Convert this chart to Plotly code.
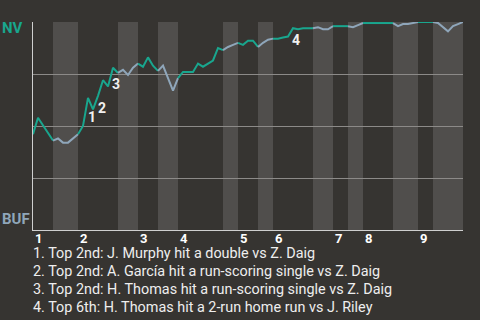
import plotly.graph_objects as go

# Win probability for NV (1 = NV wins, 0 = BUF wins), by play index
play_x = [0, 1, 4, 5, 6, 7, 9, 10, 11, 12, 13, 14, 15, 16, 17, 18, 19, 20, 21, 22,
          23, 24, 25, 26, 28, 29, 30, 32, 33, 34, 35, 36, 37, 38, 39, 40, 41, 42, 43, 44,
          45, 46, 47, 48, 49, 50, 51, 52, 53, 54, 56, 57, 58, 59, 60, 63, 64, 65, 66, 72,
          73, 74, 75, 77, 80, 81, 83, 84, 85, 86]
nv_wp = [0.46, 0.54, 0.43, 0.44, 0.42, 0.42, 0.46, 0.50, 0.635, 0.58, 0.645, 0.72, 0.69, 0.78, 0.755, 0.77, 0.745, 0.78, 0.80, 0.785,
         0.83, 0.79, 0.765, 0.79, 0.67, 0.73, 0.76, 0.76, 0.80, 0.785, 0.80, 0.815, 0.875, 0.865, 0.88, 0.89, 0.90, 0.89, 0.91, 0.91,
         0.88, 0.90, 0.915, 0.92, 0.92, 0.925, 0.93, 0.97, 0.965, 0.97, 0.97, 0.975, 0.965, 0.965, 0.98, 0.98, 0.975, 0.985, 0.995, 0.995,
         0.98, 0.99, 0.99, 1.0, 1.0, 0.995, 0.955, 0.98, 0.99, 1.0]

# half-inning boundaries (play index) : top1, bot1, top2, ...
half_bounds = [0, 4, 9, 17, 21, 25, 29, 38, 41, 45, 48, 56, 60, 63, 66, 72, 77, 80, 86]
innings = ["1", "2", "3", "4", "5", "6", "7", "8", "9"]

event_x = [11, 13, 16, 52]
event_labels = ["1", "2", "3", "4"]
event_offsets = [(4, -19), (4, -12), (3, -16), (3, -12)]
notes = [
    "1. Top 2nd: J. Murphy hit a double vs Z. Daig",
    "2. Top 2nd: A. García hit a run-scoring single vs Z. Daig",
    "3. Top 2nd: H. Thomas hit a run-scoring single vs Z. Daig",
    "4. Top 6th: H. Thomas hit a 2-run home run vs J. Riley",
]

BG = "#363431"
BAND = "#504e4c"
TEAL = "#19a68e"
GREY = "#8fa6ba"

fig = go.Figure()

shapes = []
for i in range(len(half_bounds) - 1):
    if i % 2 == 1:
        shapes.append(dict(type="rect", xref="x", yref="y", x0=half_bounds[i], x1=half_bounds[i + 1],
                           y0=0, y1=1, fillcolor=BAND, line_width=0, layer="below"))

for i in range(len(half_bounds) - 1):
    a, b = half_bounds[i], half_bounds[i + 1]
    xs = [x for x in play_x if a <= x <= b]
    ys = [nv_wp[play_x.index(x)] for x in xs]
    fig.add_trace(go.Scatter(x=xs, y=ys, mode="lines",
                             line=dict(color=TEAL if i % 2 == 0 else GREY, width=2),
                             hoverinfo="skip", showlegend=False))

annotations = []
for k, lab in enumerate(event_labels):
    ex = event_x[k]
    ey = nv_wp[play_x.index(ex)]
    dx, dy = event_offsets[k]
    annotations.append(dict(x=ex, y=ey, xref="x", yref="y", text=f"<b>{lab}</b>", showarrow=False,
                            xshift=dx, yshift=dy, font=dict(family="Roboto", size=14, color="#f0f0f0")))

for j, inn in enumerate(innings):
    annotations.append(dict(x=half_bounds[2 * j], y=0, xref="x", yref="paper", text=f"<b>{inn}</b>",
                            showarrow=False, xanchor="left", yanchor="middle", xshift=0, yshift=-8,
                            font=dict(family="Roboto", size=13, color="#ffffff")))

for j, note in enumerate(notes):
    annotations.append(dict(x=0, y=0, xref="paper", yref="paper", text=note, showarrow=False,
                            xanchor="left", yanchor="middle", xshift=-2, yshift=-23 - 18 * j,
                            font=dict(family="Roboto", size=14.4, color="#eeeeee")))

annotations.append(dict(x=0, y=1, xref="paper", yref="paper", text="<b>NV</b>", showarrow=False,
                        xanchor="right", yanchor="middle", xshift=-8, yshift=-6,
                        font=dict(family="Roboto", size=15, color=TEAL)))
annotations.append(dict(x=0, y=0, xref="paper", yref="paper", text="<b>BUF</b>", showarrow=False,
                        xanchor="right", yanchor="middle", xshift=-1, yshift=11,
                        font=dict(family="Roboto", size=15, color=GREY)))

fig.update_layout(
    width=480, height=320,
    margin=dict(l=33, r=17, t=22, b=90),
    paper_bgcolor=BG, plot_bgcolor=BG,
    shapes=shapes, annotations=annotations,
    xaxis=dict(range=[0, 86], showgrid=False, zeroline=False, showticklabels=False,
               showline=True, linecolor="#cfcfcf", linewidth=1, fixedrange=True),
    yaxis=dict(range=[0, 1], tickvals=[0.25, 0.5, 0.75, 1.0], showticklabels=False,
               gridcolor="#8c8a88", gridwidth=1, zeroline=False,
               showline=True, linecolor="#cfcfcf", linewidth=1, fixedrange=True),
    showlegend=False,
)

fig.write_html("out.html")
